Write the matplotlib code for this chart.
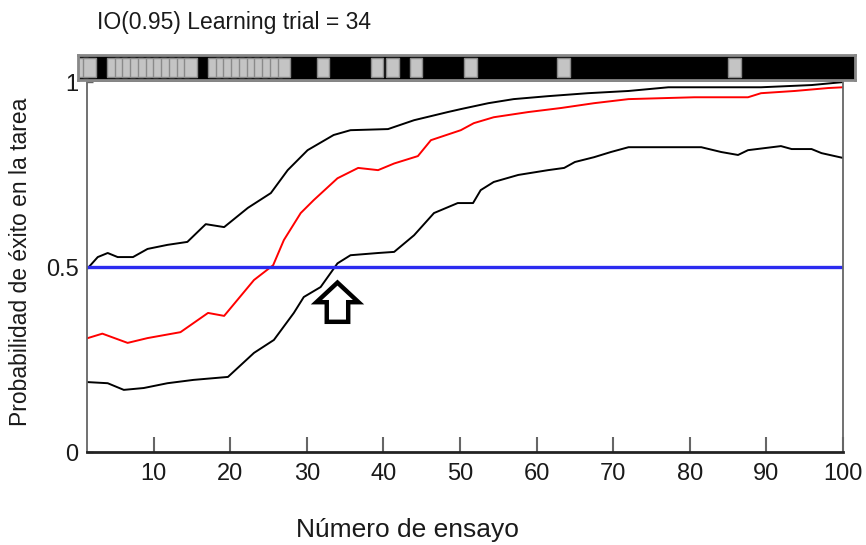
import matplotlib.pyplot as plt
from matplotlib.patches import Polygon, Rectangle

plt.rcParams["font.family"] = ["Liberation Sans", "DejaVu Sans"]

# trials answered correctly (grey blocks in the top strip)
correct_trials = [1, 2, 5, 6, 7, 8, 9, 10, 11, 12, 13, 14, 15, 18, 19, 20, 21,
                  22, 23, 24, 25, 26, 27, 32, 39, 41, 44, 51, 63, 85]

# upper 95% bound
upper_t = [1.4, 2.7, 4, 5.3, 7.3, 9.2, 11.8, 14.4, 16.8, 19.2, 22.3, 25.3, 27.5,
           30.1, 33.5, 35.7, 40.6, 44, 48.4, 50.1, 53.7, 57, 61.5, 66.7, 72, 77.2,
           89.3, 95.9, 100]
upper_p = [0.497, 0.527, 0.538, 0.527, 0.527, 0.549, 0.56, 0.568, 0.616, 0.608,
           0.66, 0.70, 0.762, 0.816, 0.857, 0.870, 0.873, 0.897, 0.919, 0.927,
           0.943, 0.954, 0.962, 0.97, 0.976, 0.986, 0.986, 0.992, 1.0]

# estimated probability (red)
mode_t = [1.4, 3.3, 6.6, 9.2, 13.5, 17.1, 19.2, 23.1, 25.6, 27, 29.2, 30.9, 34,
          36.7, 39.3, 41.4, 44.5, 46.2, 50.1, 51.8, 54.4, 58.9, 63.2, 67.5, 72,
          80.6, 87.6, 89.3, 93.7, 98.1, 100]
mode_p = [0.308, 0.32, 0.295, 0.308, 0.324, 0.376, 0.368, 0.465, 0.505, 0.573,
          0.646, 0.681, 0.74, 0.768, 0.762, 0.78, 0.80, 0.843, 0.870, 0.889,
          0.905, 0.919, 0.93, 0.943, 0.954, 0.959, 0.959, 0.97, 0.976, 0.984, 0.986]

# lower 95% bound
lower_t = [1.4, 4, 6.1, 8.7, 11.8, 15.2, 19.7, 23.1, 25.7, 28.3, 29.6, 31.8, 34,
           35.7, 39.3, 41.4, 44, 46.6, 49.7, 51.7, 52.7, 54.4, 57.6, 61.5, 63.6,
           65, 67.5, 69.7, 72, 81.5, 84.1, 86.3, 87.6, 91.9, 93.3, 95.9, 97.2, 100]
lower_p = [0.189, 0.186, 0.168, 0.173, 0.186, 0.195, 0.203, 0.268, 0.303, 0.376,
           0.419, 0.446, 0.51, 0.532, 0.538, 0.541, 0.586, 0.646, 0.673, 0.673,
           0.708, 0.73, 0.749, 0.762, 0.768, 0.784, 0.797, 0.811, 0.824, 0.824,
           0.811, 0.803, 0.816, 0.827, 0.819, 0.819, 0.808, 0.795]

chance = 0.5
learning_trial = 34

fig = plt.figure(figsize=(8.66, 5.45), dpi=100)

# main panel
ax = fig.add_axes([0.1005, 0.1706, 0.8729, 0.6808])
ax.plot(upper_t, upper_p, color="black", lw=1.4)
ax.plot(lower_t, lower_p, color="black", lw=1.4)
ax.plot(mode_t, mode_p, color="red", lw=1.4)
ax.axhline(chance, color="#2b2bf0", lw=2.4)

# hollow arrow under the learning trial
hw, sw = 2.75, 1.4
arrow = Polygon(
    [(learning_trial, 0.458), (learning_trial + hw, 0.405), (learning_trial + sw, 0.405),
     (learning_trial + sw, 0.352), (learning_trial - sw, 0.352), (learning_trial - sw, 0.405),
     (learning_trial - hw, 0.405)],
    closed=True, facecolor="white", edgecolor="black", lw=3.2, joinstyle="miter", zorder=5)
ax.add_patch(arrow)

ax.set_xlim(1.3, 100)
ax.set_ylim(0, 1.003)
ax.set_xticks(range(10, 101, 10))
ax.set_yticks([0, 0.5, 1])
ax.set_yticklabels(["0", "0.5", "1"])
ax.tick_params(axis="x", direction="in", length=11, width=1.5, color="#666666",
               labelsize=17, pad=8, labelcolor="#1a1a1a")
ax.tick_params(axis="y", direction="in", length=4, width=1, color="#666666",
               labelsize=17, pad=6, labelcolor="#1a1a1a")
for side in ["left", "right", "top"]:
    ax.spines[side].set_color("#666666")
    ax.spines[side].set_linewidth(1.3)
ax.spines["bottom"].set_color("#222222")
ax.spines["bottom"].set_linewidth(2)

# strip of trial outcomes
bar = fig.add_axes([0.0901, 0.8532, 0.8972, 0.0459])
bar.set_facecolor("black")
for t in correct_trials:
    bar.add_patch(Rectangle((t - 1.3, 0.12), 1.6, 0.76, facecolor="#c4c4c4",
                            edgecolor="#8a8a8a", lw=1))
bar.set_xlim(0, 100)
bar.set_ylim(0, 1)
bar.set_xticks([])
bar.set_yticks([])
for s in bar.spines.values():
    s.set_color("#888888")
    s.set_linewidth(2)

fig.text(0.112, 0.958, "IO(0.95) Learning trial = 34", fontsize=16.5, ha="left",
         va="center", color="#1a1a1a")
fig.text(0.470, 0.028, "Número de ensayo", fontsize=19, ha="center", va="center",
         color="#1a1a1a")
fig.text(0.024, 0.52, "Probabilidad de éxito en la tarea", fontsize=16.5,
         rotation=90, ha="center", va="center", color="#1a1a1a")

fig.savefig("out.png", dpi=100)
